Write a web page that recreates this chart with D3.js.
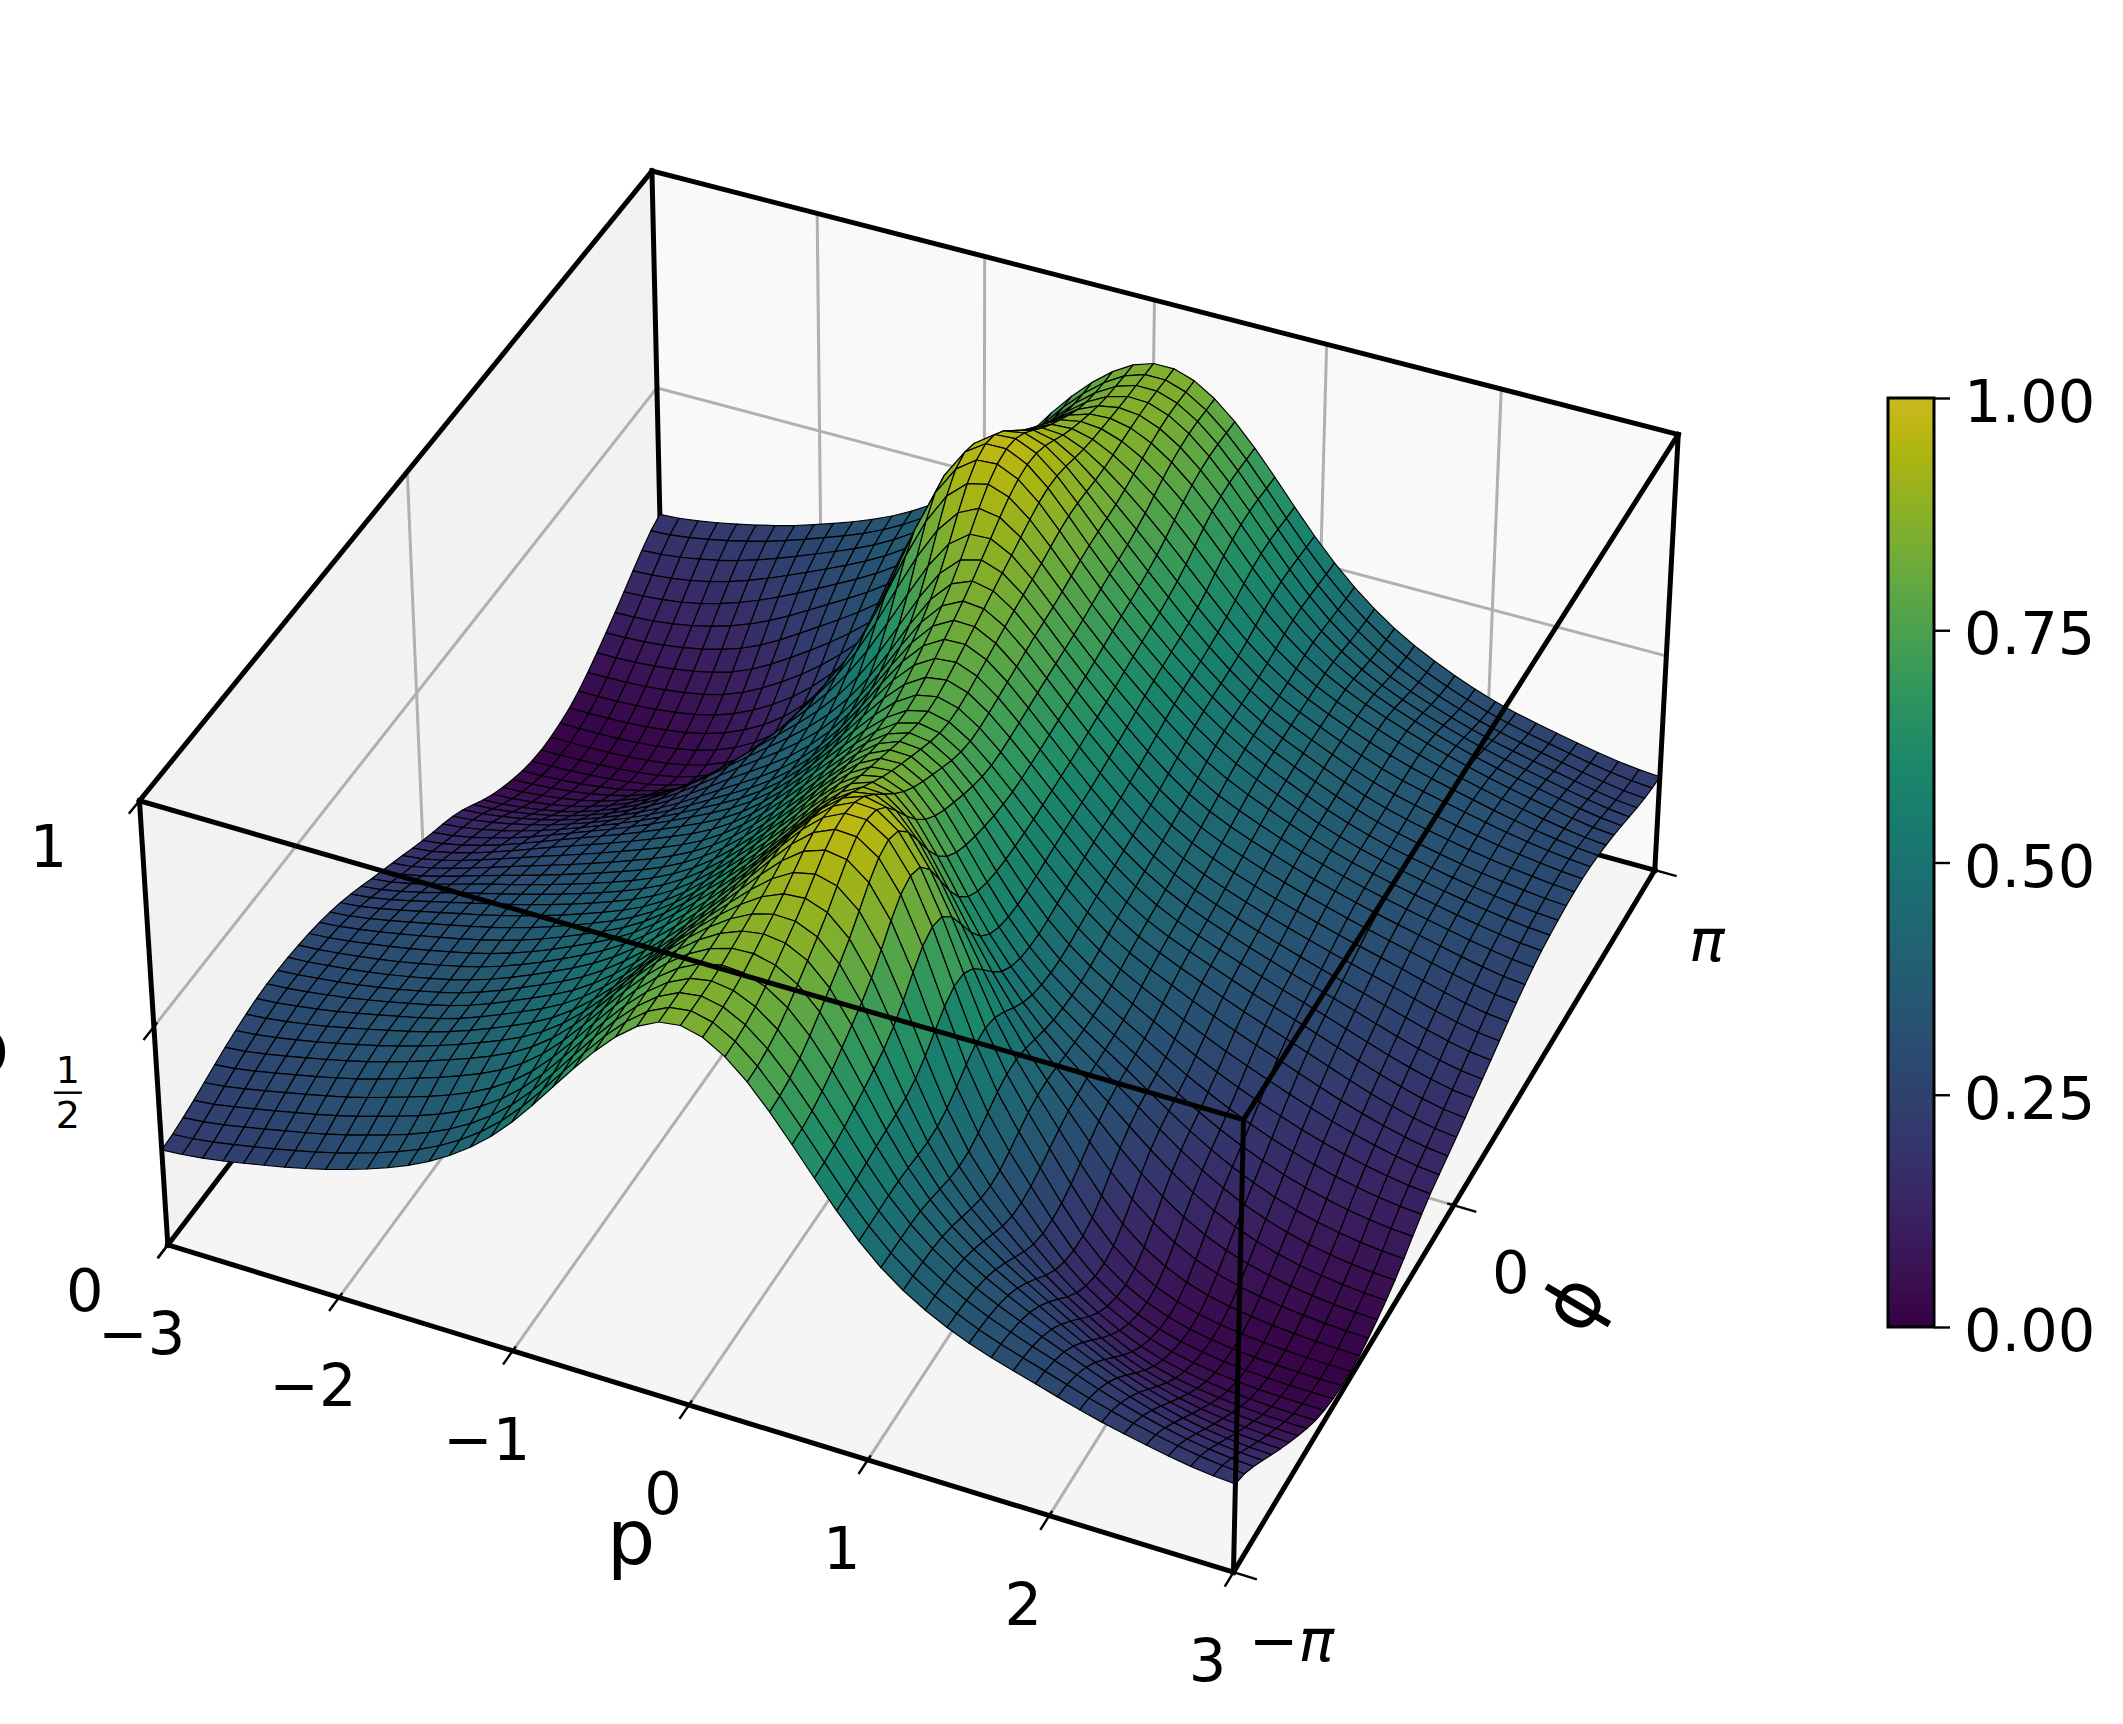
<!DOCTYPE html>
<html>
<head>
<meta charset="utf-8">
<title>Surface over p and phi</title>
<script src="https://d3js.org/d3.v7.min.js"></script>
<style>
  body { margin: 0; background: #fff; }
  svg { display: block; }
  text { font-family: "DejaVu Sans"; fill: #000; }
</style>
</head>
<body>
<div id="chart"></div>
<script>
// axis ticks
var pTicks = [-3, -2, -1, 0, 1, 2, 3];
var pTickLabels = ["\u22123", "\u22122", "\u22121", "0", "1", "2", "3"];
var phiTicks = [-Math.PI, 0, Math.PI];
var zTicks = [0, 0.5, 1];
var colorbarTicks = [0, 0.25, 0.5, 0.75, 1];

// surface height in percent. one row per phi (-pi to pi), one column per p (-3 to 3)
var surface = [
[21,22,22,23,24,25,26,27,28,30,31,33,35,37,40,43,47,51,57,63,69,74,79,83,86,87,85,82,78,72,66,60,54,48,44,41,38,36,34,32,31,30,28,27,26,25,24,23,22,22,21],
[22,23,23,24,25,26,27,28,29,31,32,34,36,38,41,44,48,52,58,63,69,74,79,83,86,87,85,82,78,72,66,60,54,48,44,40,37,35,33,31,30,29,27,25,24,23,22,21,20,19,19],
[22,23,24,25,26,27,28,29,30,32,33,34,36,38,41,44,48,52,58,64,70,75,80,84,86,87,85,83,79,73,67,61,54,48,44,40,37,35,32,30,29,28,26,24,22,21,20,19,18,17,17],
[23,24,25,26,27,28,29,30,31,33,34,35,37,39,41,44,48,53,59,64,70,75,80,84,86,87,85,83,79,74,68,62,55,48,44,40,38,35,33,31,29,27,25,23,21,19,17,16,16,15,15],
[24,25,26,27,28,29,30,31,32,34,36,37,38,41,43,45,49,54,59,65,70,75,79,82,85,87,86,85,82,77,70,63,56,48,44,40,36,33,31,29,27,24,22,20,18,16,15,14,14,13,13],
[25,26,27,28,29,30,31,32,34,35,37,38,40,42,44,46,50,54,60,65,71,76,80,83,86,87,87,86,84,80,72,63,55,48,43,38,35,32,30,27,24,21,19,17,15,14,12,11,11,10,10],
[26,27,28,29,30,31,32,33,35,36,38,40,41,43,45,47,51,55,60,66,71,76,80,83,87,88,89,89,87,83,76,65,55,47,41,37,33,30,28,25,22,19,15,13,12,11,10,10,9,9,9],
[27,27,28,29,30,31,32,33,35,36,38,40,41,43,45,47,51,55,59,65,70,75,79,82,86,89,90,90,89,85,77,66,55,46,40,36,32,28,25,22,19,16,12,11,10,9,8,8,7,7,7],
[27,28,29,29,30,32,33,34,35,36,37,39,41,43,45,47,50,54,59,63,68,73,78,82,85,89,91,91,90,86,78,68,56,46,39,35,30,26,21,18,15,13,9,8,7,6,6,5,5,5,5],
[28,29,30,30,31,32,33,34,35,36,37,39,41,44,45,47,50,54,58,62,67,72,77,81,85,90,93,95,94,90,82,71,58,45,38,33,28,23,18,15,12,10,7,6,5,4,4,3,3,3,3],
[28,29,30,30,31,32,33,34,35,36,37,39,41,44,45,47,50,54,58,62,67,72,76,81,85,92,96,98,98,95,88,77,62,47,40,35,29,23,17,14,11,9,6,5,4,3,3,2,2,2,2],
[28,29,29,30,30,31,32,33,34,35,37,39,41,43,45,47,50,54,57,61,66,71,75,80,86,93,97,99,100,98,91,81,66,49,41,36,30,23,16,12,9,7,5,4,3,3,2,2,2,2,2],
[28,29,29,30,30,31,32,33,34,35,37,39,41,43,45,47,50,54,57,61,65,70,75,80,86,92,97,99,100,98,92,82,66,51,43,38,31,23,15,11,8,6,4,3,2,2,1,1,1,1,1],
[28,28,29,30,30,31,32,33,34,35,37,38,40,43,45,47,50,53,57,61,65,70,75,80,86,92,97,99,100,99,93,83,68,53,45,40,33,24,16,12,8,6,4,3,2,2,1,1,1,1,1],
[27,28,29,29,30,31,32,33,34,35,37,38,40,43,45,47,49,53,57,61,65,69,74,79,84,91,95,98,99,95,87,76,64,52,45,40,34,26,19,14,10,8,5,4,3,3,2,2,2,1,1],
[27,28,28,29,30,31,32,33,34,35,37,38,40,43,44,46,49,52,56,60,64,68,73,78,83,89,93,95,93,85,78,70,60,50,45,40,35,29,22,17,13,10,7,6,5,4,3,3,2,2,2],
[26,27,28,29,30,31,32,33,34,35,37,38,40,42,43,45,48,51,55,60,64,68,73,78,83,89,92,93,90,79,70,63,55,49,44,39,35,31,25,21,17,14,10,9,7,6,5,4,4,3,3],
[25,26,27,28,29,30,31,32,33,35,36,37,39,41,42,44,47,50,54,59,63,67,72,78,83,88,90,89,84,74,64,57,51,47,42,38,35,32,27,24,20,17,13,11,9,7,6,5,5,4,4],
[24,25,26,27,28,30,31,32,33,35,36,37,39,41,42,44,47,50,54,59,63,67,72,78,83,87,88,86,81,72,63,56,50,46,42,38,35,33,28,25,21,18,15,13,11,9,8,7,6,6,5],
[23,24,25,26,27,29,30,31,32,34,35,36,38,40,41,43,46,49,53,58,62,67,72,77,82,86,86,84,78,69,61,54,49,45,41,38,35,33,29,25,22,19,16,14,12,10,9,8,7,7,6],
[21,22,23,25,26,28,29,30,31,33,34,36,37,39,41,43,46,49,53,57,62,67,72,77,81,85,85,83,76,69,61,54,49,45,41,38,35,33,29,26,23,21,18,16,15,13,12,11,10,10,9],
[20,21,22,23,25,26,28,29,30,32,33,35,36,38,40,42,45,48,52,57,61,66,71,76,80,84,84,81,75,68,60,53,48,44,41,38,35,33,29,26,24,22,20,18,17,15,14,13,12,12,11],
[19,20,21,22,24,25,27,28,30,31,33,35,36,38,40,42,45,48,52,57,61,66,71,76,80,83,82,79,73,67,60,54,49,45,41,38,36,34,30,28,26,24,22,20,19,17,16,15,14,13,12],
[18,19,20,21,23,24,26,28,29,31,32,34,36,38,39,41,44,48,52,57,61,66,71,75,79,82,80,77,72,66,61,55,50,46,42,39,37,35,32,30,28,26,24,22,20,19,17,16,15,14,13],
[16,17,18,20,21,23,25,27,28,30,32,33,35,37,39,41,44,47,51,56,61,65,70,75,78,81,79,75,71,65,61,55,50,46,43,40,38,36,33,31,29,27,26,24,22,20,18,17,16,15,14],
[15,16,17,19,20,22,24,26,28,29,31,33,35,37,38,40,43,47,51,56,61,65,70,74,78,80,78,74,70,65,61,56,51,47,43,40,38,37,35,33,31,29,28,26,24,22,20,19,17,16,15],
[14,15,16,17,18,20,22,24,26,27,29,31,33,36,38,40,43,46,50,55,61,65,71,75,79,81,78,75,70,65,61,56,51,47,44,41,39,37,35,33,32,30,28,27,25,23,21,20,18,17,16],
[13,14,15,16,17,19,20,22,24,26,28,30,32,35,37,39,42,46,50,55,61,66,72,77,80,82,79,75,71,66,61,57,52,48,44,41,39,38,36,34,32,31,29,28,26,24,23,21,20,19,18],
[12,13,14,15,16,17,19,20,22,24,26,28,30,34,36,38,41,45,49,54,60,67,73,79,82,83,80,76,71,66,61,57,52,48,45,42,40,38,36,35,33,31,30,28,27,25,24,22,21,20,19],
[11,12,12,13,14,15,17,18,20,22,24,26,29,33,35,38,41,44,48,53,60,68,75,81,84,84,80,76,71,66,61,57,52,48,45,42,40,38,36,35,33,32,30,29,28,26,25,23,22,21,20],
[9,10,10,11,12,13,15,16,18,21,23,26,29,33,35,38,41,45,49,55,62,69,76,83,85,85,81,77,72,67,62,57,53,49,46,43,41,39,37,36,34,33,31,30,29,28,26,25,23,22,21],
[6,7,7,8,9,10,12,14,16,19,22,25,29,33,35,38,41,45,49,55,62,69,78,84,86,86,82,77,72,67,62,58,53,49,46,43,41,40,38,36,35,34,32,31,30,29,27,26,25,24,23],
[5,6,6,7,8,9,11,13,15,18,21,25,28,33,35,38,42,46,50,56,63,72,81,86,88,87,83,78,72,67,63,59,54,50,47,44,42,41,39,37,36,35,33,32,31,30,28,27,26,25,24],
[4,4,5,5,6,7,9,11,13,17,20,24,27,32,35,38,42,47,51,57,64,74,84,89,90,88,83,78,72,67,63,59,54,50,47,44,42,41,39,37,36,35,33,32,31,30,29,28,27,26,25],
[3,3,4,4,5,6,7,9,10,14,17,21,25,31,35,39,44,49,55,63,70,79,90,93,92,89,83,78,73,68,64,60,55,51,48,45,43,42,40,38,37,35,34,33,32,31,30,29,28,27,26],
[2,2,2,3,3,4,5,6,7,10,13,17,22,29,35,40,45,50,60,70,78,85,93,95,93,89,83,78,73,68,64,60,56,52,49,46,44,43,40,38,37,35,34,33,32,31,30,29,28,28,27],
[1,1,2,2,2,3,3,4,5,8,10,14,19,26,34,40,45,52,64,76,87,95,99,98,95,91,84,79,74,69,65,61,57,53,49,47,45,43,40,38,37,35,34,33,32,31,30,29,29,28,27],
[1,1,1,1,1,2,2,3,4,6,8,12,16,24,33,40,45,53,68,83,93,99,100,99,97,92,86,80,75,70,65,61,57,53,50,47,45,43,40,38,37,35,34,33,32,31,30,30,29,28,28],
[1,1,1,1,1,2,2,3,4,6,8,11,15,23,31,38,43,51,66,82,92,98,100,99,97,92,86,80,75,70,65,61,57,54,50,47,45,43,41,39,37,35,34,33,32,31,30,30,29,29,28],
[2,2,2,2,2,3,3,4,5,7,9,12,16,23,30,36,41,49,66,81,91,98,100,99,97,93,86,80,75,71,66,61,57,54,50,47,45,43,41,39,37,35,34,33,32,31,30,30,29,29,28],
[2,2,2,2,3,3,4,5,6,9,11,14,17,23,29,35,40,47,62,77,88,95,98,98,96,92,85,81,76,72,67,62,58,54,50,47,45,44,41,39,37,36,35,34,33,32,31,30,30,29,28],
[3,3,3,3,4,4,5,6,7,10,12,15,18,23,28,33,38,45,58,71,82,90,94,95,93,90,85,81,77,72,67,62,58,54,50,47,45,44,41,39,37,36,35,34,33,32,31,30,30,29,28],
[5,5,5,5,6,6,7,8,9,13,15,18,21,26,30,35,39,46,56,68,78,86,90,91,91,89,85,82,78,73,68,63,59,54,50,47,45,43,41,39,37,36,35,34,33,32,30,29,29,28,27],
[7,7,7,8,8,9,10,11,12,16,19,22,25,28,32,36,40,46,55,66,77,85,89,90,90,89,86,82,79,75,70,65,59,55,51,47,45,43,41,40,38,36,35,33,32,31,30,29,28,27,27],
[9,9,9,10,10,11,12,13,15,19,22,25,28,30,33,37,41,47,55,65,76,83,87,88,89,89,87,84,81,77,72,67,61,56,52,48,46,43,41,40,38,36,35,33,32,31,30,29,28,27,26],
[10,10,11,11,12,14,15,17,19,21,24,27,30,32,35,38,43,48,55,64,73,80,84,86,87,88,87,85,82,78,73,67,62,56,52,48,45,43,40,38,37,35,34,32,31,30,29,28,27,26,25],
[13,13,14,14,15,16,18,20,22,24,27,29,31,33,36,40,44,48,56,63,70,77,81,84,86,88,87,85,82,78,73,68,62,57,52,48,44,42,39,37,36,34,32,31,30,29,28,27,26,25,24],
[15,15,16,16,17,19,21,23,25,27,29,31,33,35,38,41,45,49,56,63,69,75,79,83,86,88,88,86,83,79,74,68,63,57,51,47,43,40,38,36,34,33,31,30,29,28,27,26,25,24,23],
[17,17,18,19,20,21,22,24,26,28,29,31,33,36,39,42,46,50,56,63,69,75,79,83,86,88,88,86,83,79,74,68,62,56,51,47,43,40,37,35,33,32,30,29,28,27,26,25,24,23,22],
[19,19,20,21,22,23,24,25,27,29,30,32,34,36,39,42,46,50,57,63,69,74,78,82,85,87,87,85,82,78,73,67,62,56,51,47,43,40,37,35,33,31,29,28,27,26,25,24,23,23,22],
[21,22,22,23,24,25,26,27,28,30,31,33,35,37,40,43,47,51,57,63,69,74,78,82,85,87,87,85,82,78,73,67,61,55,50,46,42,39,36,34,32,30,28,27,26,25,24,23,22,22,21]
];

var width = 2123, height = 1724;

var svg = d3.select("#chart").append("svg")
    .attr("width", width)
    .attr("height", height);

// the read values are whole percents, a light blur takes the steps out of the mesh
var columns = surface[0].length;
var flat = Float64Array.from(surface.flat());
d3.blur2({ data: flat, width: columns }, 0.6);
function heightAt(i, j) { return flat[j * columns + i] / 100; }

// grid position and box position scales
var pIndex = d3.scaleLinear().domain([0, 50]).range([-3, 3]);
var phiIndex = d3.scaleLinear().domain([0, 50]).range([-Math.PI, Math.PI]);
var xBox = d3.scaleLinear().domain([-3, 3]).range([0, 1]);
var yBox = d3.scaleLinear().domain([-Math.PI, Math.PI]).range([0, 1]);
var zBox = d3.scaleLinear().domain([0, 1]).range([0, 1]);

// box corners as they land on the page, used to fit the camera
var corners = [
    [0, 0, 0, 173, 1251], [1, 0, 0, 1232, 1574], [1, 1, 0, 1652, 873], [0, 1, 0, 661, 588],
    [0, 0, 1, 136, 799], [1, 0, 1, 1243, 1113], [1, 1, 1, 1683, 436], [0, 1, 1, 651, 177]
];

// least squares fit of a 3x4 camera matrix, last element fixed at 1
function fitCamera(pts) {
    var n = 11, A = d3.range(n).map(function() { return d3.range(n + 1).map(function() { return 0; }); });
    function add(r, b) {
        for (var i = 0; i < n; i++) {
            for (var j = 0; j < n; j++) A[i][j] += r[i] * r[j];
            A[i][n] += r[i] * b;
        }
    }
    pts.forEach(function(c) {
        var x = c[0], y = c[1], z = c[2], u = c[3] / 1000, v = c[4] / 1000;
        add([x, y, z, 1, 0, 0, 0, 0, -u * x, -u * y, -u * z], u);
        add([0, 0, 0, 0, x, y, z, 1, -v * x, -v * y, -v * z], v);
    });
    for (var i = 0; i < n; i++) {
        var best = i;
        for (var k = i + 1; k < n; k++) if (Math.abs(A[k][i]) > Math.abs(A[best][i])) best = k;
        var t = A[i]; A[i] = A[best]; A[best] = t;
        for (var k2 = 0; k2 < n; k2++) {
            if (k2 == i) continue;
            var f = A[k2][i] / A[i][i];
            for (var j = i; j <= n; j++) A[k2][j] -= f * A[i][j];
        }
    }
    return d3.range(n).map(function(i) { return A[i][n] / A[i][i]; });
}
var cam = fitCamera(corners);

function depth(p, phi, z) {
    return cam[8] * xBox(p) + cam[9] * yBox(phi) + cam[10] * zBox(z) + 1;
}
function proj(p, phi, z) {
    var x = xBox(p), y = yBox(phi), h = zBox(z), w = depth(p, phi, z);
    return [1000 * (cam[0] * x + cam[1] * y + cam[2] * h + cam[3]) / w,
            1000 * (cam[4] * x + cam[5] * y + cam[6] * h + cam[7]) / w];
}

var polyLine = d3.line();
var P0 = -3, P1 = 3, F0 = -Math.PI, F1 = Math.PI;

// panes
var panes = [
    { fill: "#f5f5f5", pts: [[P0, F0, 0], [P1, F0, 0], [P1, F1, 0], [P0, F1, 0]] },
    { fill: "#f2f2f2", pts: [[P0, F0, 0], [P0, F1, 0], [P0, F1, 1], [P0, F0, 1]] },
    { fill: "#f9f9f9", pts: [[P0, F1, 0], [P1, F1, 0], [P1, F1, 1], [P0, F1, 1]] }
];
svg.selectAll(".pane").data(panes).enter().append("path")
    .attr("class", "pane")
    .attr("d", function(d) { return polyLine(d.pts.map(function(q) { return proj(q[0], q[1], q[2]); })) + "Z"; })
    .attr("fill", function(d) { return d.fill; });

function seg(parent, a, b, color, w) {
    var s = proj(a[0], a[1], a[2]), e = proj(b[0], b[1], b[2]);
    parent.append("line")
        .attr("x1", s[0]).attr("y1", s[1]).attr("x2", e[0]).attr("y2", e[1])
        .attr("stroke", color).attr("stroke-width", w).attr("stroke-linecap", "square");
}

// grid lines
var grid = svg.append("g");
pTicks.slice(1, -1).forEach(function(p) {
    seg(grid, [p, F0, 0], [p, F1, 0], "#b0b0b0", 3);
    seg(grid, [p, F1, 0], [p, F1, 1], "#b0b0b0", 3);
});
seg(grid, [P0, 0, 0], [P1, 0, 0], "#b0b0b0", 3);
seg(grid, [P0, 0, 0], [P0, 0, 1], "#b0b0b0", 3);
seg(grid, [P0, F0, 0.5], [P0, F1, 0.5], "#b0b0b0", 3);
seg(grid, [P0, F1, 0.5], [P1, F1, 0.5], "#b0b0b0", 3);

// box edges behind the surface
var back = svg.append("g");
seg(back, [P0, F0, 0], [P0, F1, 0], "#000", 5);
seg(back, [P0, F1, 0], [P1, F1, 0], "#000", 5);
seg(back, [P0, F1, 0], [P0, F1, 1], "#000", 5);
seg(back, [P0, F0, 0], [P1, F0, 0], "#000", 5);
seg(back, [P1, F0, 0], [P1, F1, 0], "#000", 5);

// surface cells, far ones first
function shade(v) {
    var c = d3.rgb(d3.interpolateViridis(v));
    return d3.rgb(c.r * 0.8, c.g * 0.8, c.b * 0.8).formatRgb();
}
var cells = [];
for (var j = 0; j < 50; j++) {
    for (var i = 0; i < 50; i++) {
        var q = [[i, j], [i + 1, j], [i + 1, j + 1], [i, j + 1]].map(function(k) {
            return [pIndex(k[0]), phiIndex(k[1]), heightAt(k[0], k[1])];
        });
        cells.push({
            pts: q.map(function(k) { return proj(k[0], k[1], k[2]); }),
            value: d3.mean(q, function(k) { return k[2]; }),
            far: d3.mean(q, function(k) { return depth(k[0], k[1], k[2]); })
        });
    }
}
cells.sort(function(a, b) { return b.far - a.far; });
svg.append("g").selectAll("path").data(cells).enter().append("path")
    .attr("d", function(d) { return polyLine(d.pts) + "Z"; })
    .attr("fill", function(d) { return shade(d.value); })
    .attr("stroke", "#000")
    .attr("stroke-width", 1.2)
    .attr("stroke-linejoin", "round");

// box edges in front
var front = svg.append("g");
seg(front, [P0, F0, 0], [P0, F0, 1], "#000", 5);
seg(front, [P1, F1, 0], [P1, F1, 1], "#000", 5);
seg(front, [P0, F0, 1], [P1, F0, 1], "#000", 5);
seg(front, [P1, F0, 1], [P1, F1, 1], "#000", 5);
seg(front, [P0, F1, 1], [P1, F1, 1], "#000", 5);
seg(front, [P0, F0, 1], [P0, F1, 1], "#000", 5);
seg(front, [P1, F0, 0], [P1, F0, 1], "#000", 5);

// ticks
var ticks = svg.append("g");
pTicks.forEach(function(p) { seg(ticks, [p, F0 - 0.11, 0], [p, F0 + 0.03, 0], "#000", 2.4); });
phiTicks.forEach(function(f) { seg(ticks, [P1 - 0.03, f, 0], [P1 + 0.12, f, 0], "#000", 2.4); });
zTicks.forEach(function(z) { seg(ticks, [P0, F0 - 0.11, z], [P0, F0 + 0.03, z], "#000", 2.4); });

// tick labels
var fontSize = 59;
function label(x, y, str, size) {
    return svg.append("text").attr("x", x).attr("y", y)
        .attr("text-anchor", "middle").attr("font-size", size || fontSize).text(str);
}
pTicks.forEach(function(p, i) {
    var t = proj(p, F0, 0);
    label(t[0] - 26, t[1] + 109, pTickLabels[i]);
});

var piLow = proj(P1, F0, 0);
var tLow = label(piLow[0] + 58, piLow[1] + 89, "\u2212");
tLow.append("tspan").attr("font-style", "italic").text("\u03c0");
var zero = proj(P1, 0, 0);
label(zero[0] + 57, zero[1] + 88, "0");
var piHigh = proj(P1, F1, 0);
label(piHigh[0] + 52, piHigh[1] + 91, "\u03c0").attr("font-style", "italic");

var z0 = proj(P0, F0, 0), z1 = proj(P0, F0, 1), zh = proj(P0, F0, 0.5);
label(z0[0] - 83, z0[1] + 66, "0");
label(z1[0] - 91, z1[1] + 66, "1");
label(zh[0] - 86, zh[1] + 56, "1", 38);
label(zh[0] - 86, zh[1] + 101, "2", 38);
svg.append("line")
    .attr("x1", zh[0] - 100).attr("x2", zh[0] - 72)
    .attr("y1", zh[1] + 66).attr("y2", zh[1] + 66)
    .attr("stroke", "#000").attr("stroke-width", 2.4);

// axis labels
label(631, 1564, "p", 76);
label(0, 0, "\u03d5", 76).attr("transform", "translate(1596,1316) rotate(-59)");
label(-15, 1073, "\u03c1", 76);

// colorbar
var cbX = 1888, cbW = 46, cbTop = 398, cbBottom = 1327;
var cbScale = d3.scaleLinear().domain([0, 1]).range([cbBottom, cbTop]);
var cb = svg.append("g");
cb.selectAll("rect").data(d3.range(0, 1, 1 / 256)).enter().append("rect")
    .attr("x", cbX).attr("width", cbW)
    .attr("y", function(d) { return cbScale(d + 1 / 256); })
    .attr("height", (cbBottom - cbTop) / 256 + 1)
    .attr("fill", function(d) { return shade(d); });
cb.append("rect")
    .attr("x", cbX).attr("y", cbTop).attr("width", cbW).attr("height", cbBottom - cbTop)
    .attr("fill", "none").attr("stroke", "#000").attr("stroke-width", 3);

var cbAxis = svg.append("g")
    .attr("transform", "translate(" + (cbX + cbW) + ",0)")
    .call(d3.axisRight(cbScale).tickValues(colorbarTicks).tickFormat(d3.format(".2f")).tickSize(16).tickPadding(14));
cbAxis.select(".domain").remove();
cbAxis.selectAll("line").attr("stroke", "#000").attr("stroke-width", 2.4);
cbAxis.selectAll("text").attr("font-size", fontSize).attr("font-family", "DejaVu Sans").attr("dy", "0.40em");
</script>
</body>
</html>
